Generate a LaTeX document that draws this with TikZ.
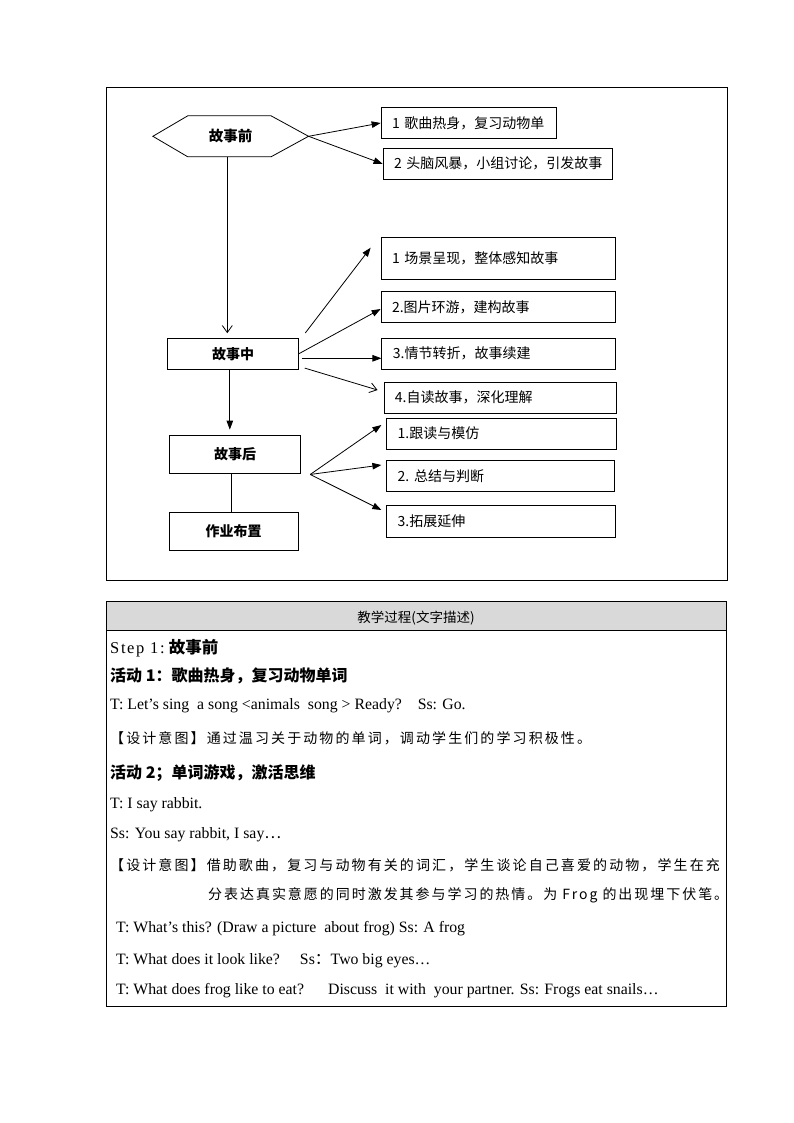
\documentclass[tikz,border=0pt]{standalone}
\usepackage{fontspec}
\setmainfont{Liberation Serif}
\newfontfamily\cjk{Noto Sans CJK SC}
\newfontfamily\cjkwide[LetterSpace=15]{Noto Sans CJK SC}
\usetikzlibrary{arrows.meta, positioning}
\definecolor{headgray}{RGB}{217,217,217}
\tikzset{
  box/.style={draw, line width=0.8pt, inner xsep=11pt, inner ysep=0pt, align=left, font=\cjk\fontsize{14}{16}\selectfont},
  stage/.style={draw, line width=0.8pt, inner sep=0pt, font=\cjk\bfseries\fontsize{14}{16}\selectfont},
  arr/.style={line width=0.8pt, -{Triangle[length=9pt,width=6.5pt]}},
  openarr/.style={line width=0.8pt, -{Straight Barb[length=7pt,width=10pt]}},
  rowtext/.style={anchor=west, inner sep=0pt, font=\fontsize{15.8}{18}\selectfont},
}

\begin{document}
\begin{tikzpicture}[x=1pt, y=-1pt]
\useasboundingbox (0,0) rectangle (794,1123);
\draw[line width=0.8pt] (106,87) rectangle (727,580);

\node[inner sep=0pt, minimum width=155.3pt, minimum height=40.7pt, font=\cjk\bfseries\fontsize{14.5}{16}\selectfont] (pre) at (230.7,136.3) {故事前};
\draw[line width=0.8pt] (pre.west) -- ([xshift=35pt]pre.north west) -- ([xshift=-37.6pt]pre.north east) -- (pre.east) -- ([xshift=-37.6pt]pre.south east) -- ([xshift=35pt]pre.south west) -- cycle;
\node[stage, minimum width=130.7pt, minimum height=31pt] (mid) at (233,353.8) {故事中};
\node[stage, minimum width=130.7pt, minimum height=38.3pt] (post) at (235.2,454.2) {故事后};
\node[stage, minimum width=129.4pt, minimum height=38.4pt] (hw) at (233.7,531.5) {作业布置};

\node[box, text width=153.3pt, minimum height=30.6pt] (b1) at (468.7,123) {1~歌曲热身，复习动物单};
\node[box, text width=207pt, minimum height=31pt] (b2) at (497.5,163.8) {2~头脑风暴，小组讨论，引发故事};
\node[box, text width=212.5pt, minimum height=41.3pt] (s1) at (498.3,258.4) {1~场景呈现，整体感知故事};
\node[box, text width=212.5pt, minimum height=31pt] (s2) at (498.3,307.2) {2.图片环游，建构故事};
\node[box, text width=211.7pt, minimum height=31pt] (s3) at (498.7,353.8) {3.情节转折，故事续建};
\node[box, text width=210.8pt, minimum height=31pt] (s4) at (500.3,397.8) {4.自读故事，深化理解};
\node[box, text width=208pt, minimum height=30.7pt] (t1) at (501.7,433.7) {1.跟读与模仿};
\node[box, text width=206pt, minimum height=31.7pt] (t2) at (500.7,475.8) {2.~总结与判断};
\node[box, text width=206.8pt, minimum height=31.6pt] (t3) at (501.1,521.5) {3.拓展延伸};

\draw[arr] (pre.east) -- (b1.west);
\draw[arr] (pre.east) -- (b2.west);
\draw[openarr] ([xshift=-3.4pt]pre.south) -- ([shift={(-5.7,-4.7)}]mid.north);
\draw[arr] ([shift={(6.6,-5)}]mid.north east) -- ([shift={(-10,-10.7)}]s1.west);
\draw[arr] (mid.east) -- ([shift={(0,1.8)}]s2.west);
\draw[arr] ([shift={(3,4.5)}]mid.east) -- ([shift={(0,4.5)}]s3.west);
\draw[openarr] ([shift={(6,-1.6)}]mid.south east) -- ([shift={(-6,-7.8)}]s4.west);
\draw[arr] ([xshift=-3.2pt]mid.south) -- ([shift={(-5.4,-5)}]post.north);
\draw[line width=0.8pt] ([xshift=-3.8pt]post.south) -- ([xshift=-2.3pt]hw.north);
\coordinate (fan) at ([shift={(9.3,0.7)}]post.south east);
\draw[arr] (fan) -- ([shift={(-4.9,-8.7)}]t1.west);
\draw[arr] (fan) -- ([shift={(-4.9,-10.8)}]t2.west);
\draw[arr] (fan) -- ([shift={(-4.9,-11.5)}]t3.west);

\fill[headgray] (106,601.5) rectangle (726,630);
\draw[line width=0.8pt] (106,601.5) rectangle (726,1006);
\draw[line width=0.8pt] (106,630) -- (726,630);
\node[font=\cjk\fontsize{13.5}{15}\selectfont] (head) at (416,618.5) {教学过程(文字描述)};

\node[rowtext, font=\fontsize{16.5}{18}\selectfont] (r1) at (110,648) {{\addfontfeature{LetterSpace=10}Step 1:}\ {\cjk\bfseries\fontsize{16.5}{18}\selectfont 故事前}};
\node[rowtext, font=\cjk\bfseries\fontsize{16}{18}\selectfont] (r2) at (110,676) {活动 1：歌曲热身，复习动物单词};
\node[rowtext] (r3) at (110,706) {T: Let’s sing\ \ a song <animals\ \ song > Ready?\ \ \ \ Ss: Go.};
\node[rowtext, font=\cjkwide\fontsize{14}{16}\selectfont] (r4) at (110,738) {【设计意图】通过温习关于动物的单词，调动学生们的学习积极性。};
\node[rowtext, font=\cjk\bfseries\fontsize{16}{18}\selectfont] (r5) at (110,773) {活动 2；单词游戏，激活思维};
\node[rowtext] (r6) at (110,805) {T: I say rabbit.};
\node[rowtext] (r7) at (110,835) {Ss: You say rabbit, I say{\cjk …}};
\node[rowtext, font=\cjkwide\fontsize{14}{16}\selectfont] (r8) at (110,865) {【设计意图】借助歌曲，复习与动物有关的词汇，学生谈论自己喜爱的动物，学生在充};
\node[rowtext, font=\cjk\addfontfeature{LetterSpace=14}\fontsize{14}{16}\selectfont] (r9) at (208,895) {分表达真实意愿的同时激发其参与学习的热情。为 Frog 的出现埋下伏笔。};
\node[rowtext] (r10) at (116,929) {T: What’s this? (Draw a picture\ \ about frog) Ss: A frog};
\node[rowtext] (r11) at (116,961) {T: What does it look like?\hspace{20pt}Ss{\cjk ：}Two big eyes…};
\node[rowtext] (r12) at (116,991) {T: What does frog like to eat?\hspace{24pt}Discuss\ \ it with\ \ your partner. Ss: Frogs eat snails…};
\end{tikzpicture}
\end{document}
